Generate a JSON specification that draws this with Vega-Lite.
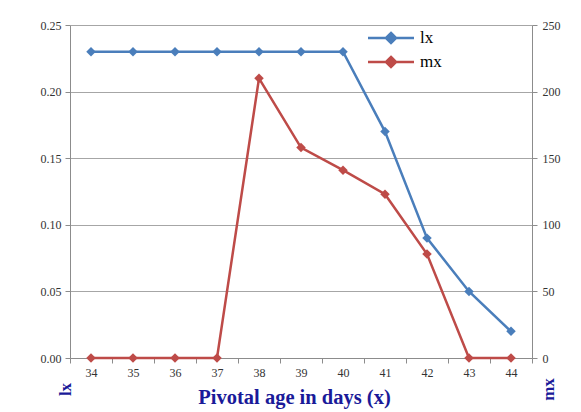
{
  "$schema": "https://vega.github.io/schema/vega-lite/v6.json",
  "autosize": "none",
  "width": 462,
  "height": 333,
  "padding": {"left": 70, "top": 25, "right": 49, "bottom": 54},
  "background": "white",
  "config": {
    "view": {"stroke": null},
    "font": "serif",
    "axis": {
      "labelFont": "Liberation Serif",
      "labelFontSize": 12,
      "labelColor": "#333333",
      "domainColor": "#8C8C8C",
      "tickColor": "#8C8C8C",
      "gridColor": "#A6A6A6",
      "titleFont": "serif",
      "titleFontWeight": "bold",
      "titleColor": "#1A1A99"
    },
    "legend": {"labelFont": "serif"}
  },
  "data": {
    "values": [
      {"x": 34, "lx": 0.23, "mx": 0},
      {"x": 35, "lx": 0.23, "mx": 0},
      {"x": 36, "lx": 0.23, "mx": 0},
      {"x": 37, "lx": 0.23, "mx": 0},
      {"x": 38, "lx": 0.23, "mx": 210},
      {"x": 39, "lx": 0.23, "mx": 158},
      {"x": 40, "lx": 0.23, "mx": 141},
      {"x": 41, "lx": 0.17, "mx": 123},
      {"x": 42, "lx": 0.09, "mx": 78},
      {"x": 43, "lx": 0.05, "mx": 0},
      {"x": 44, "lx": 0.02, "mx": 0}
    ]
  },
  "encoding": {
    "x": {
      "field": "x",
      "type": "ordinal",
      "scale": {"paddingInner": 0, "paddingOuter": 0},
      "axis": {
        "title": "Pivotal age in days (x)",
        "titleFontSize": 20.5,
        "titlePadding": 9,
        "titleX": 224,
        "labelAngle": 0,
        "labelPadding": 4,
        "tickBand": "extent",
        "tickSize": 5,
        "grid": false
      }
    }
  },
  "layer": [
    {
      "mark": {"type": "line", "strokeWidth": 2.5, "point": {"shape": "diamond", "filled": true, "size": 90}},
      "encoding": {
        "y": {
          "field": "lx",
          "type": "quantitative",
          "scale": {"domain": [0, 0.25]},
          "axis": {
            "title": "lx",
            "titleFontSize": 17,
            "titleAngle": 270,
            "titleX": -5,
            "titleY": 364,
            "titleAlign": "center",
            "titleBaseline": "middle",
            "values": [0, 0.05, 0.1, 0.15, 0.2, 0.25],
            "format": ".2f",
            "tickSize": 5,
            "labelPadding": 4,
            "grid": true
          }
        },
        "color": {
          "datum": "lx",
          "type": "nominal",
          "scale": {"domain": ["lx", "mx"], "range": ["#4A7EBB", "#BE4B48"]},
          "legend": {
            "title": null,
            "orient": "none",
            "legendX": 308,
            "legendY": 0,
            "symbolType": "M-2,0H2M0,-0.44L0.44,0L0,0.44L-0.44,0Z",
            "symbolSize": 530,
            "symbolStrokeWidth": 2.5,
            "labelFontSize": 17,
            "labelColor": "#000000",
            "rowPadding": -1,
            "labelOffset": 16
          }
        }
      }
    },
    {
      "mark": {"type": "line", "strokeWidth": 2.5, "point": {"shape": "diamond", "filled": true, "size": 90}},
      "encoding": {
        "y": {
          "field": "mx",
          "type": "quantitative",
          "scale": {"domain": [0, 250]},
          "axis": {
            "orient": "right",
            "title": "mx",
            "titleFontSize": 17,
            "titleAngle": 270,
            "titleX": 16,
            "titleY": 364,
            "titleAlign": "center",
            "titleBaseline": "middle",
            "values": [0, 50, 100, 150, 200, 250],
            "tickSize": 5,
            "labelPadding": 5,
            "grid": false
          }
        },
        "color": {"datum": "mx", "type": "nominal"}
      }
    }
  ],
  "resolve": {"scale": {"y": "independent"}}
}
